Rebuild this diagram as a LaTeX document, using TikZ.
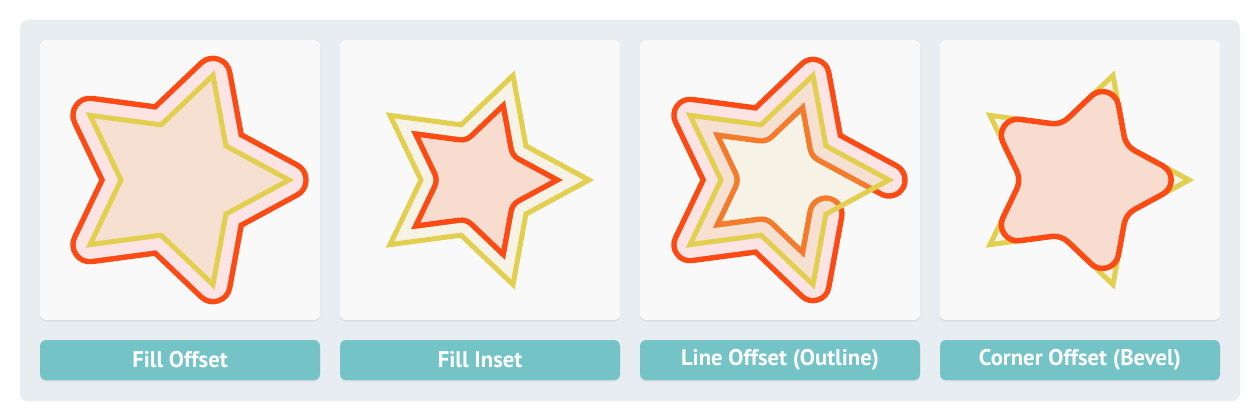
\documentclass[tikz,border=0pt]{standalone}
\usepackage{fontspec}
\setmainfont{PT Sans}
\usetikzlibrary{shadows, calc}

\definecolor{panelbg}{HTML}{E8EDF2}
\definecolor{cardbg}{HTML}{F9F9F9}
\definecolor{tagbg}{HTML}{74C4C7}
\definecolor{starred}{HTML}{FC4A14}
\definecolor{starorange}{HTML}{F47A2C}
\definecolor{starpink}{HTML}{FCE4E4}
\definecolor{starpeach}{HTML}{F6E0D2}
\definecolor{starsalmon}{HTML}{F8DCCF}
\definecolor{starcream}{HTML}{F6F3E6}
\definecolor{staryellow}{HTML}{E3CF4F}

% star outline (closed with -- cycle) and the open line used for the outline offset
\newcommand{\starline}{(0:110) -- (36:58) -- (72:110) -- (108:58) -- (144:110) -- (180:58) -- (216:110) -- (252:58) -- (288:110) -- (324:58)}
\newcommand{\openline}{(0:110) -- (324:58) -- (288:110) -- (252:58) -- (216:110) -- (180:58) -- (144:110) -- (108:58) -- (72:110) -- (36:58)}

\begin{document}
\begin{tikzpicture}[x=0.75pt, y=-0.75pt,
  panel/.style={rectangle, rounded corners=6pt, fill=panelbg, inner sep=0pt, minimum width=915pt, minimum height=285pt,
    drop shadow={shadow xshift=0pt, shadow yshift=-1.2pt, opacity=0.12}},
  card/.style={rectangle, rounded corners=4.5pt, fill=cardbg, inner sep=0pt, minimum size=210pt,
    drop shadow={shadow xshift=0pt, shadow yshift=-1.2pt, opacity=0.15}},
  tag/.style={rectangle, rounded corners=4.5pt, fill=tagbg, text=white, inner sep=0pt, minimum width=210pt, minimum height=30pt,
    font=\fontsize{17}{20}\selectfont\bfseries, drop shadow={shadow xshift=0pt, shadow yshift=-1.2pt, opacity=0.15}},
  yline/.style={draw=staryellow, line width=3.75pt},
  ring/.style={line join=round, line cap=round}]
  \useasboundingbox (0,0) rectangle (1260,420);
  \node[panel] (panel) at (630,210) {};
  \node[card] (c1) at (180,180) {};
  \node[card] (c2) at (480,180) {};
  \node[card] (c3) at (780,180) {};
  \node[card] (c4) at (1080,180) {};
  \node[tag] (t1) at (180,360) {Fill Offset};
  \node[tag] (t2) at (480,360) {Fill Inset};
  \node[tag] (t3) at (780,360) {Line Offset (Outline)};
  \node[tag] (t4) at (1080,360) {Corner Offset (Bevel)};
  % fill offset
  \begin{scope}[shift={(179,180)}]
    \draw[ring, starred, line width=29.6pt] \starline -- cycle;
    \draw[ring, starpink, line width=21.4pt] \starline -- cycle;
    \fill[starpeach] \starline -- cycle;
    \draw[yline] \starline -- cycle;
  \end{scope}
  % fill inset
  \begin{scope}[shift={(479,180)}]
    \begin{scope}
      \clip \starline -- cycle;
      \fill[starsalmon] \starline -- cycle;
      \draw[ring, starred, line width=26.6pt] \starline -- cycle;
      \draw[ring, starcream, line width=18.4pt] \starline -- cycle;
    \end{scope}
    \draw[yline] \starline -- cycle;
  \end{scope}
  % line offset
  \begin{scope}[shift={(779,180)}]
    \draw[ring, starred, line width=28.1pt] \openline;
    \draw[ring, starpink, line width=19.9pt] \openline;
    \begin{scope}
      \clip \starline -- cycle;
      \fill[starcream] \starline -- cycle;
      \draw[ring, starorange, line width=28.1pt] \openline;
      \draw[ring, starpeach, line width=19.9pt] \openline;
    \end{scope}
    \draw[yline] \starline -- cycle;
  \end{scope}
  % corner offset: big rounding at the tips, small at the inner corners
  \begin{scope}[shift={(1079,180)}]
    \fill[starcream] \starline -- cycle;
    \draw[yline] \starline -- cycle;
    \foreach \a [count=\i from 0] in {0,36,...,324}
      \coordinate (v\i) at (\a:{ifthenelse(mod(\i,2)==0,110,58)});
    \draw[fill=starsalmon, draw=starred, line width=4.1pt]
      ($(v0)!22.5pt!(v1)$)
      \foreach \q/\p/\n/\m in {1/0/2/3, 3/2/4/5, 5/4/6/7, 7/6/8/9, 9/8/0/1} {
        -- ($(v\q)!7.5pt!(v\p)$) .. controls ($(v\q)!2.8pt!(v\p)$) and ($(v\q)!2.8pt!(v\n)$) .. ($(v\q)!7.5pt!(v\n)$)
        -- ($(v\n)!22.5pt!(v\q)$) .. controls ($(v\n)!12.75pt!(v\q)$) and ($(v\n)!12.75pt!(v\m)$) .. ($(v\n)!22.5pt!(v\m)$)
      } -- cycle;
  \end{scope}
\end{tikzpicture}
\end{document}
